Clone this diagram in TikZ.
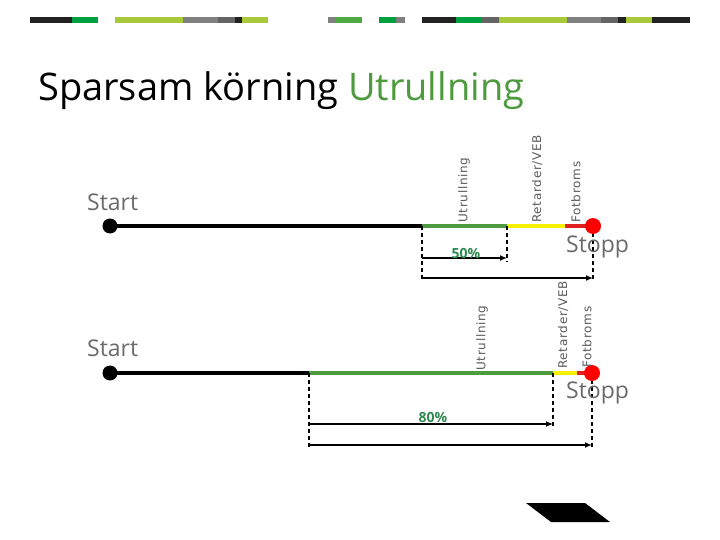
\documentclass[tikz,border=0pt]{standalone}
\usepackage{fontspec}
\setmainfont{Open Sans}
\newfontfamily\labfont[LetterSpace=6]{DejaVu Sans}
\usetikzlibrary{arrows.meta}
\definecolor{barblack}{HTML}{222222}
\definecolor{bargreen}{HTML}{00A040}
\definecolor{barlight}{HTML}{A9C93A}
\definecolor{bargray}{HTML}{808080}
\definecolor{bardgray}{HTML}{646464}
\definecolor{barmid}{HTML}{4FAA45}
\definecolor{titlegreen}{HTML}{4E9A3E}
\definecolor{linegreen}{HTML}{4E9A3E}
\definecolor{lineyellow}{HTML}{F7F000}
\definecolor{linered}{HTML}{E02020}
\definecolor{dotred}{HTML}{FF0000}
\definecolor{txtgray}{HTML}{6A6A6A}
\definecolor{lblgray}{HTML}{5A5A5A}
\definecolor{pctgreen}{HTML}{2E8A50}
\begin{document}
\begin{tikzpicture}[x=1pt,y=-1pt,
  track/.style={line width=3.6pt},
  startdot/.style={circle,fill=black,inner sep=0pt,minimum size=15pt},
  stopdot/.style={circle,fill=dotred,inner sep=0pt,minimum size=16pt},
  dimline/.style={line width=1.8pt,dash pattern=on 4pt off 3pt},
  dimarrow/.style={line width=1.8pt,-{Latex[length=7pt,width=6pt]}},
  vlabel/.style={rotate=90,anchor=west,inner sep=0pt,text=lblgray,font=\labfont\fontsize{12}{13}\selectfont},
  endlabel/.style={anchor=base west,inner sep=0pt,text=txtgray,font=\fontsize{23}{24}\selectfont},
  pct/.style={text=pctgreen,font=\bfseries\fontsize{14}{15}\selectfont,inner sep=0pt}]
\useasboundingbox (0,0) rectangle (720,540);
% top bar
\fill[barblack] (30,17) rectangle (72,23);
\fill[bargreen] (72,17) rectangle (98,23);
\fill[barlight] (115,17) rectangle (183,23);
\fill[bargray] (183,17) rectangle (218,23);
\fill[bardgray] (218,17) rectangle (235,23);
\fill[barblack] (235,17) rectangle (242,23);
\fill[barlight] (242,17) rectangle (268,23);
\fill[bargray] (328,17) rectangle (336,23);
\fill[barmid] (336,17) rectangle (362,23);
\fill[bargreen] (379,17) rectangle (396,23);
\fill[bargray] (396,17) rectangle (405,23);
\fill[barblack] (422,17) rectangle (456,23);
\fill[bargreen] (456,17) rectangle (482,23);
\fill[bardgray] (482,17) rectangle (499,23);
\fill[barlight] (499,17) rectangle (567,23);
\fill[bargray] (567,17) rectangle (601,23);
\fill[bardgray] (601,17) rectangle (618,23);
\fill[barblack] (618,17) rectangle (626,23);
\fill[barlight] (626,17) rectangle (652,23);
\fill[barblack] (652,17) rectangle (690,23);
% title
\node[anchor=base west,inner sep=0pt,font=\fontsize{38}{40}\selectfont] (title) at (38,101)
  {Sparsam körning \textcolor{titlegreen}{Utrullning}};

% ---------- diagram 1 ----------
\coordinate (A1) at (110,226);
\coordinate (B1) at (422,226);
\coordinate (C1) at (507,226);
\coordinate (D1) at (565,226);
\coordinate (E1) at (593,226);
\coordinate (B1d) at (422,280);
\coordinate (C1d) at (507,262);
\coordinate (E1d) at (593,281);
\coordinate (P1s) at (422,258);
\coordinate (P1e) at (507,258);
\coordinate (Q1s) at (422,278);
\coordinate (Q1e) at (593,278);
\draw[track,black] (A1) -- (B1);
\draw[track,linegreen] (B1) -- (C1);
\draw[track,lineyellow] (C1) -- (D1);
\draw[track,linered] (D1) -- (E1);
\draw[dimline] (B1) -- (B1d);
\draw[dimline] (C1) -- (C1d);
\draw[dimline] (E1) -- (E1d);
\draw[dimarrow] (P1s) -- (P1e);
\draw[dimarrow] (Q1s) -- (Q1e);
\node[startdot] (start1) at (A1) {};
\node[stopdot] (stop1) at (E1) {};
\node[endlabel] (st1) at (87,211) {Start};
\node[endlabel] (sp1) at (566,252) {Stopp};
\node[vlabel] (u1) at (464,223) {Utrullning};
\node[vlabel] (r1) at (537,223) {Retarder/VEB};
\node[vlabel] (f1) at (576,223) {Fotbroms};
\node[pct] (p50) at (466,253) {50\%};

% ---------- diagram 2 ----------
\coordinate (A2) at (110,373);
\coordinate (B2) at (309,373);
\coordinate (C2) at (553,373);
\coordinate (D2) at (577,373);
\coordinate (E2) at (592,373);
\coordinate (B2d) at (309,447);
\coordinate (C2d) at (553,429);
\coordinate (E2d) at (592,448);
\coordinate (P2s) at (309,424);
\coordinate (P2e) at (553,424);
\coordinate (Q2s) at (309,445);
\coordinate (Q2e) at (592,445);
\draw[track,black] (A2) -- (B2);
\draw[track,linegreen] (B2) -- (C2);
\draw[track,lineyellow] (C2) -- (D2);
\draw[track,linered] (D2) -- (E2);
\draw[dimline] (B2) -- (B2d);
\draw[dimline] (C2) -- (C2d);
\draw[dimline] (E2) -- (E2d);
\draw[dimarrow] (P2s) -- (P2e);
\draw[dimarrow] (Q2s) -- (Q2e);
\node[startdot] (start2) at (A2) {};
\node[stopdot] (stop2) at (E2) {};
\node[endlabel] (st2) at (87,356) {Start};
\node[endlabel] (sp2) at (566,398) {Stopp};
\node[vlabel] (u2) at (482,371) {Utrullning};
\node[vlabel] (r2) at (563,369) {Retarder/VEB};
\node[vlabel] (f2) at (587,368) {Fotbroms};
\node[pct] (p80) at (433,417) {80\%};

% bottom shape
\fill[black] (526,503) -- (585,503) -- (610,522) -- (551,522) -- cycle;
\end{tikzpicture}
\end{document}
